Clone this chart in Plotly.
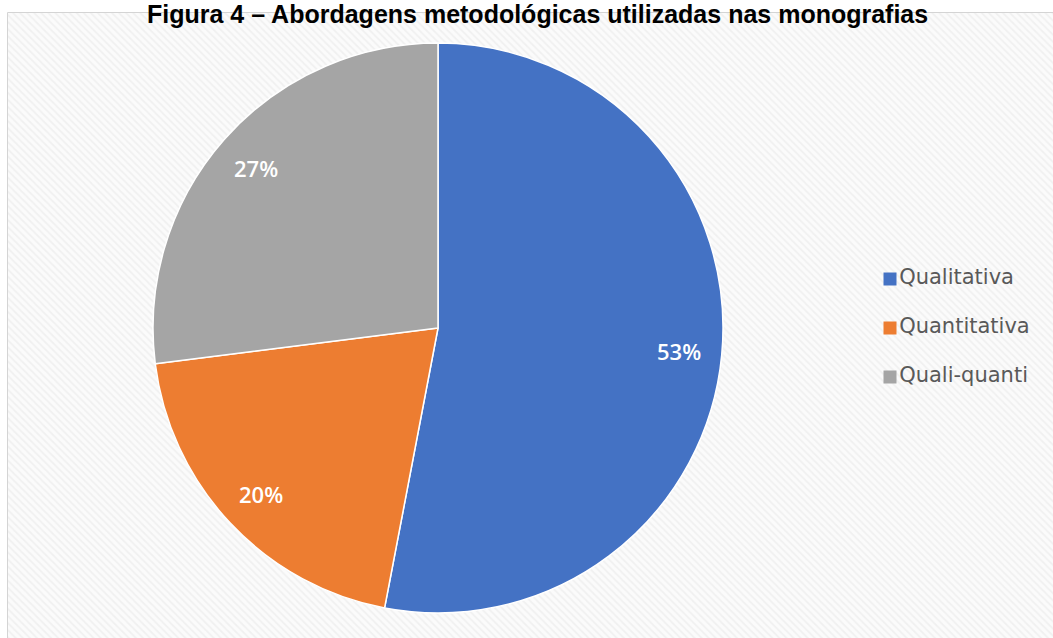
import math
import plotly.graph_objects as go

categories = ["Qualitativa", "Quantitativa", "Quali-quanti"]
values = [53, 20, 27]
colors = ["#4472C4", "#ED7D31", "#A5A5A5"]
title_text = "Figura 4 – Abordagens metodológicas utilizadas nas monografias"

W, H = 1053, 638
cx, cy, R = 438, 328, 285

fig = go.Figure()

# hatched chart-area background
fig.add_trace(go.Scatter(
    x=[7.5, 1070, 1070, 7.5, 7.5], y=[12.5, 12.5, 660, 660, 12.5],
    mode="lines", fill="toself",
    line=dict(color="#d4d4d4", width=1),
    fillcolor="#f7f7f7",
    fillpattern=dict(shape="\\", fgcolor="#e6e6e6", bgcolor="#fbfbfb", size=5, solidity=0.35),
    hoverinfo="skip", showlegend=False,
))

fig.add_trace(go.Pie(
    labels=categories, values=values,
    marker=dict(colors=colors, line=dict(color="white", width=1.5)),
    sort=False, direction="clockwise", rotation=0,
    textinfo="none",
    domain=dict(x=[(cx - R) / W, (cx + R) / W], y=[1 - (cy + R) / H, 1 - (cy - R) / H]),
    showlegend=False, hoverinfo="label+percent",
))

# percentage labels placed at slice mid-angles (Excel-like best fit radius)
total = sum(values)
cum = 0
for v in values:
    mid = (cum + v / 2) / total * 2 * math.pi
    cum += v
    r = 0.85 * R
    fig.add_annotation(
        x=cx + r * math.sin(mid), y=cy - r * math.cos(mid), xref="x", yref="y",
        text=f"{round(100 * v / total)}%", showarrow=False,
        font=dict(family="Open Sans", size=22, color="white", weight=600),
    )

# legend drawn as marker+text trace
leg_y0, leg_dy = 279, 49
fig.add_trace(go.Scatter(
    x=[890] * len(categories),
    y=[leg_y0 + i * leg_dy for i in range(len(categories))],
    mode="markers+text",
    marker=dict(symbol="square", size=13, color=colors),
    text=categories, textposition="middle right",
    textfont=dict(family="DejaVu Sans", size=21, color="#595959"),
    hoverinfo="skip", showlegend=False,
))

fig.add_annotation(
    text=f"<b>{title_text}</b>", xref="paper", yref="paper", x=0.51, y=1,
    xanchor="center", yanchor="top", yshift=2, showarrow=False,
    font=dict(family="Liberation Sans, Arial", size=25, color="black"),
)

fig.update_layout(
    width=W, height=H, margin=dict(l=0, r=0, t=0, b=0),
    paper_bgcolor="white", plot_bgcolor="white",
    xaxis=dict(range=[0, W], visible=False, domain=[0, 1], fixedrange=True),
    yaxis=dict(range=[H, 0], visible=False, domain=[0, 1], fixedrange=True),
)

fig.write_html("out.html", config={"displayModeBar": False},
               post_script="document.body.style.margin='0';")
